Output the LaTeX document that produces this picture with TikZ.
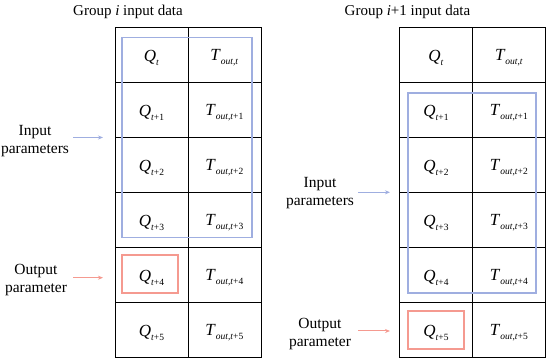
\documentclass[tikz,border=0pt]{standalone}
\usepackage{fontspec}
\setmainfont{Liberation Serif}
\usetikzlibrary{arrows.meta}
\definecolor{inblue}{RGB}{159,174,224}
\definecolor{outred}{RGB}{245,154,144}
\newcommand\sbs[1]{\raisebox{-0.25em}{\fontsize{9.5}{9.5}\selectfont #1}}
\newcommand\Qv[1]{\textit{Q}\sbs{#1}}
\newcommand\Tv[1]{\textit{T}\sbs{\textit{out},#1}}
\begin{document}
\begin{tikzpicture}[x=1pt,y=-1pt,
  cellbox/.style={draw=black, line width=0.8pt, minimum width=73pt, minimum height=55pt,
    inner sep=0pt, anchor=north west},
  celltext/.style={font=\fontsize{17}{18}\selectfont, yshift=-3pt},
  lab/.style={align=center, font=\fontsize{15.5}{18}\selectfont},
  ttl/.style={font=\fontsize{15}{18}\selectfont},
  inframe/.style={draw=inblue, line width=1.6pt},
  outframe/.style={draw=outred, line width=1.8pt},
  inarrow/.style={draw=inblue, line width=1pt, -{Stealth[length=5pt,width=4pt]}},
  outarrow/.style={draw=outred, line width=1pt, -{Stealth[length=5pt,width=4pt]}}]
\useasboundingbox (0,0) rectangle (550,363);
% titles
\node[ttl] (tl) at (128,11.5) {Group \textit{i} input data};
\node[ttl] (tr) at (407.5,11.5) {Group \textit{i}+1 input data};
% tables
\foreach \r/\s in {0/{\textit{t}},1/{\textit{t}+1},2/{\textit{t}+2},3/{\textit{t}+3},4/{\textit{t}+4},5/{\textit{t}+5}}{
  \node[cellbox] (La\r) at (114.5,27+55*\r) {};
  \node[cellbox] (Lb\r) at (187.5,27+55*\r) {};
  \node[celltext] (LaT\r) at (La\r.center) {\Qv{\s}};
  \node[celltext] (LbT\r) at (Lb\r.center) {\Tv{\s}};
  \node[cellbox] (Ra\r) at (399,27+55*\r) {};
  \node[cellbox] (Rb\r) at (472,27+55*\r) {};
  \node[celltext] (RaT\r) at (Ra\r.center) {\Qv{\s}};
  \node[celltext] (RbT\r) at (Rb\r.center) {\Tv{\s}};
}
% frames
\draw[inframe] (121.7,37.7) rectangle (251.7,237.7);
\draw[outframe] (121.7,254.7) rectangle (178.3,293.3);
\draw[inframe] (407.7,93.3) rectangle (535.7,293.3);
\draw[outframe] (407.7,310.7) rectangle (464,349);
% labels
\node[lab] (inL) at (35,141) {Input\\parameters};
\node[lab] (outL) at (36,280) {Output\\parameter};
\node[lab] (inR) at (320,193) {Input\\parameters};
\node[lab] (outR) at (320,334) {Output\\parameter};
\coordinate (inLs) at (73,137.5);
\coordinate (inLe) at (103,137.5);
\coordinate (outLs) at (73,277.7);
\coordinate (outLe) at (103,277.7);
\coordinate (inRs) at (358,192.3);
\coordinate (inRe) at (390,192.3);
\coordinate (outRs) at (358,331);
\coordinate (outRe) at (390,331);
\draw[inarrow] (inLs) -- (inLe);
\draw[outarrow] (outLs) -- (outLe);
\draw[inarrow] (inRs) -- (inRe);
\draw[outarrow] (outRs) -- (outRe);
\end{tikzpicture}
\end{document}
